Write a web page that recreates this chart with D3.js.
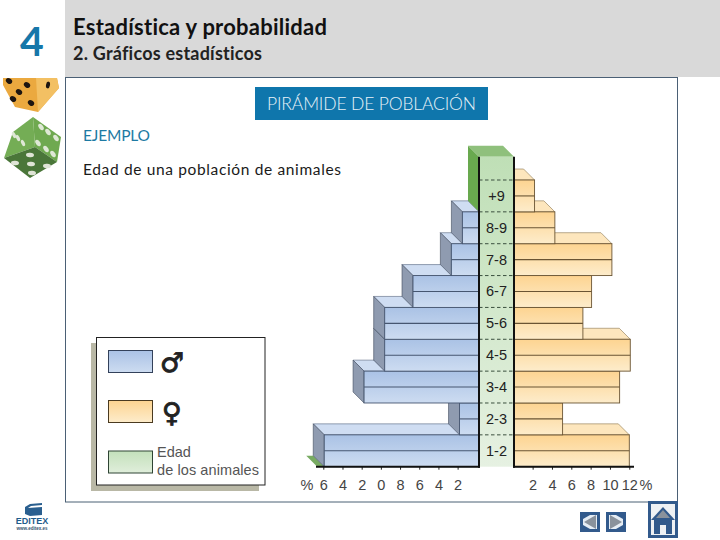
<!DOCTYPE html>
<html>
<head>
<meta charset="utf-8">
<script src="https://cdn.jsdelivr.net/npm/d3@7"></script>
<style>
  html, body { margin: 0; padding: 0; background: #fff; }
  svg { display: block; }
  text { font-family: Lato, "Open Sans", sans-serif; font-variant-ligatures: none; }
  text.arial { font-family: "Liberation Sans", Arial, sans-serif; }
</style>
</head>
<body>
<svg width="720" height="540" viewBox="0 0 720 540"></svg>
<script>
// Values, bottom age group first
const ageGroups = ["1-2", "2-3", "3-4", "4-5", "5-6", "6-7", "7-8", "8-9", "+9"];
const maleValues = [15.9, 1.8, 11.75, 9.6, 9.6, 6.65, 2.65, 1.5, 0];
const femaleValues = [12, 5.1, 11, 12.1, 7.2, 8.1, 10.2, 4.3, 2.2];

const maleTicks = [16, 14, 12, 10, 8, 6, 4, 2];
const maleTickLabels = ["6", "4", "2", "0", "8", "6", "4", "2"];
const femaleTicks = [2, 4, 6, 8, 10, 12];

const legendLabels = ["♂", "♀"];

const width = 720;
const height = 540;
const bandLeft = 479;
const bandRight = 514;
const bandTop = 156.7;
const axisY = 466.7;
const depth = 11;

const svg = d3.select("svg");
const defs = svg.append("defs");

const addGradient = (id, top, bottom) => {
  const g = defs.append("linearGradient").attr("id", id)
    .attr("x1", 0).attr("x2", 0).attr("y1", 0).attr("y2", 1);
  g.append("stop").attr("offset", "0%").attr("stop-color", top);
  g.append("stop").attr("offset", "100%").attr("stop-color", bottom);
};
addGradient("maleFill", "#aac2e5", "#cddcf1");
addGradient("femaleFill", "#fdd491", "#fdeccb");
addGradient("ageFill", "#bfdfb6", "#e6f1e2");
addGradient("ageSwatch", "#c3e0bb", "#e0eedb");

// page furniture
svg.append("rect").attr("x", 65).attr("y", 0).attr("width", width - 65).attr("height", 77).attr("fill", "#d9d9d9");
svg.append("rect").attr("x", 65.5).attr("y", 77.5).attr("width", 612).attr("height", 424.5)
  .attr("fill", "#fff").attr("stroke", "#4b6075").attr("stroke-width", 1);

svg.append("text").attr("x", 32).attr("y", 56).attr("text-anchor", "middle")
  .attr("font-size", 41).attr("font-weight", 700).attr("fill", "#1677a9").text("4");
svg.append("text").attr("x", 73).attr("y", 35).attr("font-size", 22).attr("font-weight", 700)
  .attr("textLength", 254).attr("fill", "#111").text("Estadística y probabilidad");
svg.append("text").attr("x", 73).attr("y", 60).attr("font-size", 18).attr("font-weight", 700)
  .attr("textLength", 189).attr("fill", "#222").text("2. Gráficos estadísticos");

svg.append("rect").attr("x", 255).attr("y", 87).attr("width", 233).attr("height", 33).attr("fill", "#0f76ac");
svg.append("text").attr("x", 267).attr("y", 110).attr("font-size", 17.5).attr("font-weight", 300)
  .attr("textLength", 209).attr("fill", "#e8f2f8").text("PIRÁMIDE DE POBLACIÓN");
svg.append("text").attr("x", 83).attr("y", 141).attr("font-size", 15.5)
  .attr("textLength", 67).attr("fill", "#1d7aa3").text("EJEMPLO");
svg.append("text").attr("x", 83).attr("y", 175).attr("font-size", 15.5)
  .attr("textLength", 258).attr("fill", "#1a1a1a").text("Edad de una población de animales");

// dice
const poly = (pts, fill) => svg.append("polygon").attr("points", pts.join(" ")).attr("fill", fill);
const spots = (list, fill, rx, ry, angle) => svg.append("g").selectAll("ellipse").data(list).join("ellipse")
  .attr("rx", rx).attr("ry", ry).attr("fill", fill)
  .attr("transform", (d) => `translate(${d[0]},${d[1]}) rotate(${angle})`);

poly([[3, 78], [57, 78], [59, 88], [38, 112], [15, 107], [3, 85]], "#eba93f");
poly([[36, 78], [57, 78], [59, 88], [38, 112]], "#f3c063");
spots([[9, 81], [27, 85], [19, 92], [13, 99], [31, 103]], "#1d1510", 3.4, 2.6, 35);
spots([[48, 85]], "#1d1510", 2, 3.4, 10);

poly([[4, 158], [13, 132], [33, 117], [35, 147]], "#74ad55");
poly([[33, 117], [61, 137], [57, 162], [35, 147]], "#6fa950");
poly([[4, 158], [35, 147], [57, 162], [30, 178]], "#4a7639");
spots([[41, 127], [48, 132], [56, 138], [38, 143], [46, 149], [53, 154]], "#dfe8d6", 2.2, 3.6, -35);
spots([[14, 135], [18, 138], [23, 143]], "#dfe8d6", 1.7, 3.4, -25);
spots([[30, 155], [15, 163], [31, 164], [47, 166], [32, 173]], "#dfe4d6", 4, 2.2, 5);

// scales
const xMale = d3.scaleLinear().domain([0, 16]).range([476.8, 323.3]);
const xFemale = d3.scaleLinear().domain([0, 12]).range([513.3, 629.3]);
const yBand = d3.scaleBand().domain(ageGroups).range([axisY, 180]);

const rows = ageGroups.map((age, i) => ({ age, male: maleValues[i], female: femaleValues[i] }));
const chart = svg.append("g");

const front = (g, x, w, fill, stroke, y0, bh) => {
  g.append("rect").attr("x", x).attr("y", y0).attr("width", w).attr("height", bh)
    .attr("fill", fill).attr("stroke", stroke).attr("stroke-width", 0.9);
  g.append("line").attr("x1", x).attr("x2", x + w).attr("y1", y0 + bh / 2).attr("y2", y0 + bh / 2)
    .attr("stroke", stroke).attr("stroke-width", 1.1);
};

// little green foot under the lowest bar
chart.append("polygon")
  .attr("points", [[xMale(15.9) - depth - 7, axisY - depth], [xMale(15.9) - depth, axisY - depth], [xMale(15.9), axisY], [xMale(15.9) - 7, axisY]].join(" "))
  .attr("fill", "#78ab62");

// drawn from the bottom up so each bar hides the faces behind it
rows.forEach((d) => {
  const g = chart.append("g");
  const y0 = yBand(d.age);
  const bh = yBand.bandwidth();

  // female side
  const fx = xFemale(d.female);
  g.append("polygon")
    .attr("points", [[bandRight, y0], [bandRight, y0 - depth], [fx - depth, y0 - depth], [fx, y0]].join(" "))
    .attr("fill", "#fde6bd").attr("stroke", "#8a7550").attr("stroke-width", 0.6);
  front(g, bandRight, fx - bandRight, "url(#femaleFill)", "#6a5433", y0, bh);

  // male side, +9 has no bar
  if (d.male > 0) {
    const mx = xMale(d.male);
    g.append("polygon")
      .attr("points", [[mx, y0], [mx - depth, y0 - depth], [bandLeft - depth, y0 - depth], [bandLeft, y0]].join(" "))
      .attr("fill", "#cfddf2").attr("stroke", "#56657d").attr("stroke-width", 0.6);
    g.append("polygon")
      .attr("points", [[mx, y0], [mx - depth, y0 - depth], [mx - depth, y0 + bh - depth], [mx, y0 + bh]].join(" "))
      .attr("fill", "#8f9bb0").attr("stroke", "#3f4a5c").attr("stroke-width", 0.6);
    front(g, mx, bandLeft - mx, "url(#maleFill)", "#465670", y0, bh);
  }
});

// centre band
const plusTop = yBand("+9");
const plusBottom = plusTop + yBand.bandwidth();
chart.append("polygon")
  .attr("points", [[bandLeft, bandTop], [bandLeft - depth, bandTop - depth], [bandLeft - depth, plusBottom - depth], [bandLeft, plusBottom]].join(" "))
  .attr("fill", "#69a94f");
chart.append("polygon")
  .attr("points", [[bandLeft, bandTop], [bandLeft - depth, bandTop - depth], [bandRight - depth, bandTop - depth], [bandRight, bandTop]].join(" "))
  .attr("fill", "#8fc07c");
chart.append("rect").attr("x", bandLeft).attr("y", bandTop).attr("width", bandRight - bandLeft)
  .attr("height", axisY - bandTop).attr("fill", "url(#ageFill)");

ageGroups.forEach((age) => {
  chart.append("line")
    .attr("x1", bandLeft).attr("x2", bandRight)
    .attr("y1", yBand(age)).attr("y2", yBand(age))
    .attr("stroke", "#3a4f3e").attr("stroke-width", 1).attr("stroke-dasharray", "3.5 2.5");
  chart.append("text").attr("class", "arial")
    .attr("x", (bandLeft + bandRight) / 2).attr("y", yBand(age) + yBand.bandwidth() / 2 + 5)
    .attr("text-anchor", "middle").attr("font-size", 14.5).attr("fill", "#222").text(age);
});

[bandLeft, bandRight].forEach((x) => {
  chart.append("line").attr("x1", x).attr("x2", x).attr("y1", bandTop).attr("y2", axisY + 1)
    .attr("stroke", "#111").attr("stroke-width", 2);
});

// axes
const styleAxis = (g) => {
  g.select(".domain").remove();
  g.selectAll("line").attr("stroke", "#222").attr("stroke-width", 1);
  g.selectAll("text").attr("class", "arial").attr("font-size", 14.5).attr("fill", "#444").attr("y", 13);
};

svg.append("g").attr("transform", `translate(0,${axisY})`)
  .call(d3.axisBottom(xMale).tickValues(maleTicks).tickSize(3).tickFormat((d, i) => maleTickLabels[i]))
  .call(styleAxis);
svg.append("g").attr("transform", `translate(0,${axisY})`)
  .call(d3.axisBottom(xFemale).tickValues(femaleTicks).tickSize(3))
  .call(styleAxis);

svg.append("line").attr("x1", 316).attr("x2", bandLeft + 1).attr("y1", axisY).attr("y2", axisY)
  .attr("stroke", "#111").attr("stroke-width", 2);
svg.append("line").attr("x1", bandRight - 1).attr("x2", 634).attr("y1", axisY).attr("y2", axisY)
  .attr("stroke", "#111").attr("stroke-width", 2);

svg.append("text").attr("class", "arial").attr("x", 307).attr("y", 490).attr("text-anchor", "middle")
  .attr("font-size", 14.5).attr("fill", "#444").text("%");
svg.append("text").attr("class", "arial").attr("x", 646).attr("y", 490).attr("text-anchor", "middle")
  .attr("font-size", 14.5).attr("fill", "#444").text("%");

// legend
svg.append("rect").attr("x", 91).attr("y", 343).attr("width", 168).attr("height", 148).attr("fill", "#b9b8a6");
svg.append("rect").attr("x", 96.5).attr("y", 337.5).attr("width", 168.5).attr("height", 147.5)
  .attr("fill", "#fff").attr("stroke", "#222").attr("stroke-width", 1);

const swatches = [
  { fill: "url(#maleFill)", stroke: "#33415a", y: 350.5 },
  { fill: "url(#femaleFill)", stroke: "#4a3a20", y: 400.5 },
  { fill: "url(#ageSwatch)", stroke: "#2e4434", y: 451 },
];
swatches.forEach((s) => {
  svg.append("rect").attr("x", 108.5).attr("y", s.y).attr("width", 44).attr("height", 22)
    .attr("fill", s.fill).attr("stroke", s.stroke).attr("stroke-width", 1);
});
legendLabels.forEach((label, i) => {
  svg.append("text").attr("x", 172).attr("y", 372 + i * 49.5).attr("text-anchor", "middle")
    .style("font-family", "DejaVu Sans").attr("font-size", 27).attr("font-weight", 700)
    .attr("fill", "#222").attr("stroke", "#222").attr("stroke-width", 0.9).text(label);
});
svg.append("text").attr("class", "arial").attr("x", 157).attr("y", 457).attr("font-size", 14.5).attr("fill", "#555").text("Edad");
svg.append("text").attr("class", "arial").attr("x", 157).attr("y", 475).attr("font-size", 14.5)
  .attr("textLength", 102).attr("fill", "#555").text("de los animales");

// publisher logo
poly([[25, 507], [30, 504], [42, 503], [42, 505], [31, 506], [28, 508], [42, 507], [42, 515], [30, 516], [25, 514]], "#2a5f8f");
svg.append("text").attr("class", "arial").attr("x", 32).attr("y", 524).attr("text-anchor", "middle")
  .attr("font-size", 9).attr("font-weight", 700).attr("fill", "#1f5c8c").text("EDITEX");
svg.append("text").attr("class", "arial").attr("x", 32).attr("y", 530).attr("text-anchor", "middle")
  .attr("font-size", 4.5).attr("font-weight", 700).attr("fill", "#35536f").text("www.editex.es");

// nav buttons
const navColor = "#325a8c";
svg.append("rect").attr("x", 580).attr("y", 512).attr("width", 20).attr("height", 20).attr("fill", navColor);
poly([[583, 515], [597, 515], [597, 529], [583, 529]], "#e6edf4");
poly([[584, 522], [596, 515], [596, 529]], "#8a929c");
poly([[583, 515], [590, 515], [583, 519]], navColor);
poly([[583, 529], [590, 529], [583, 525]], navColor);
svg.append("rect").attr("x", 606).attr("y", 512).attr("width", 20).attr("height", 20).attr("fill", navColor);
poly([[609, 515], [623, 515], [623, 529], [609, 529]], "#e6edf4");
poly([[610, 515], [622, 522], [610, 529]], "#8a929c");
poly([[623, 515], [616, 515], [623, 519]], navColor);
poly([[623, 529], [616, 529], [623, 525]], navColor);

svg.append("rect").attr("x", 649.5).attr("y", 502.5).attr("width", 27).attr("height", 34)
  .attr("fill", "#eef1f4").attr("stroke", navColor).attr("stroke-width", 3);
poly([[663, 507], [675, 520], [651, 520]], navColor);
poly([[663, 510], [670, 518], [656, 518]], "#8a929c");
svg.append("path").attr("d", "M654 520V534H660V525H666V534H672V520Z").attr("fill", navColor);
</script>
</body>
</html>
